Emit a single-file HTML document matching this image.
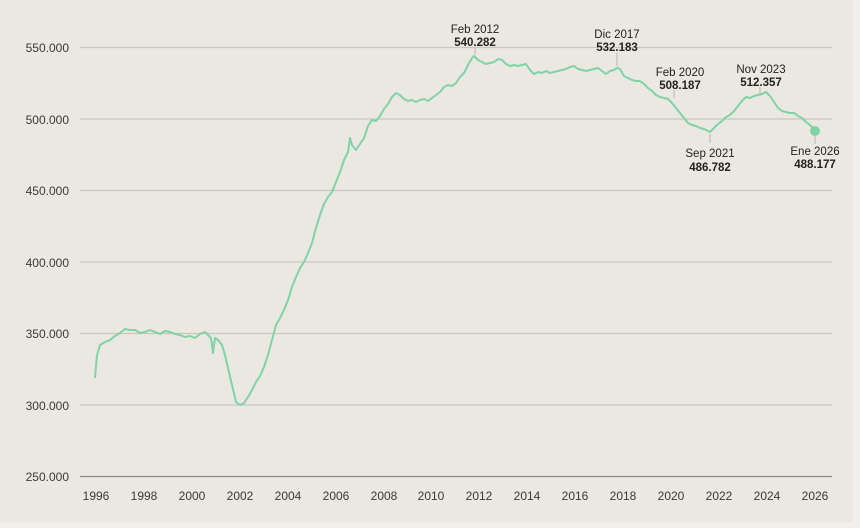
<!DOCTYPE html>
<html><head><meta charset="utf-8"><style>
html,body{margin:0;padding:0;background:#f1efeb}
svg{display:block}
text{font-family:"Liberation Sans",sans-serif}
</style></head><body>
<svg width="860" height="528" viewBox="0 0 860 528">
<rect x="0" y="0" width="853" height="522" fill="#ebe8e1"/>
<g stroke="#c9c6c0" stroke-width="1.3">
<line x1="80" y1="47.5" x2="832" y2="47.5"/>
<line x1="80" y1="119" x2="832" y2="119"/>
<line x1="80" y1="190.5" x2="832" y2="190.5"/>
<line x1="80" y1="262" x2="832" y2="262"/>
<line x1="80" y1="333.5" x2="832" y2="333.5"/>
<line x1="80" y1="405" x2="832" y2="405"/>
</g>
<line x1="80" y1="476.5" x2="832" y2="476.5" stroke="#8a8884" stroke-width="1.3"/>
<g font-size="12" fill="#3a3a3a" text-anchor="end">
<text x="69" y="52">550.000</text>
<text x="69" y="124">500.000</text>
<text x="69" y="195">450.000</text>
<text x="69" y="267">400.000</text>
<text x="69" y="338">350.000</text>
<text x="69" y="410">300.000</text>
<text x="69" y="481">250.000</text>
</g>
<g font-size="12" fill="#3a3a3a" text-anchor="middle">
<text x="96" y="500">1996</text><text x="144" y="500">1998</text><text x="192" y="500">2000</text>
<text x="240" y="500">2002</text><text x="288" y="500">2004</text><text x="336" y="500">2006</text>
<text x="384" y="500">2008</text><text x="431" y="500">2010</text><text x="479" y="500">2012</text>
<text x="527" y="500">2014</text><text x="575" y="500">2016</text><text x="623" y="500">2018</text>
<text x="671" y="500">2020</text><text x="719" y="500">2022</text><text x="767" y="500">2024</text>
<text x="815" y="500">2026</text>
</g>
<polyline fill="none" stroke="#7fd3a6" stroke-width="2" stroke-linejoin="round" points="95,378 97,355 100,345 105,342 110,340 115,336 120,333 125,329 130,330 135,330 140,333 145,332 150,330 155,332 160,334 165,331 170,332 175,334 180,335 185,337 190,336 195,338 200,334 205,332 208,335 211,338 213,353 215,338 218,340 222,345 225,355 228,368 232,385 236,402 240,405 244,403 248,397 252,390 256,382 260,376 264,367 268,355 272,340 276,325 280,318 284,310 288,300 292,287 296,277 300,268 304,262 308,253 312,243 316,228 320,215 324,204 328,197 332,192 336,182 340,172 344,160 348,152 350,138 352,145 356,150 360,144 364,138 368,126 372,120 376,121 380,116 384,109 388,104 392,97 396,93 400,95 404,99 408,101 412,100 416,102 420,100 424,99 428,101 432,98 436,95 440,92 444,87 448,85 452,86 456,83 460,77 464,73 468,65 472,58 474,56 478,60 482,62 486,64 490,63 494,62 498,59 502,60 506,64 510,66 514,65 518,66 522,65 526,64 530,70 534,74 538,72 542,73 546,71 550,73 554,72 558,71 562,70 566,69 570,67 574,66 578,69 582,70 586,71 590,70 594,69 598,68 602,71 606,74 610,71 614,70 617,68 620,69 624,76 628,78 632,80 636,81 640,81 644,84 648,88 652,91 656,95 660,97 664,98 668,99 672,103 676,108 680,113 684,118 688,123 692,125 696,126 700,128 704,129 708,131 710,132 714,128 718,124 722,121 726,117 730,115 734,111 738,106 742,101 746,97 750,98 754,96 758,95 762,94 766,92 770,96 774,102 778,108 782,111 786,112 790,113 794,113 798,116 802,118 806,122 810,125 815,130"/>
<circle cx="815" cy="131" r="5" fill="#7fd3a6"/>
<g stroke="#b9b6b0" stroke-width="1">
<line x1="475" y1="47" x2="475" y2="55"/>
<line x1="617" y1="53" x2="617" y2="66"/>
<line x1="674" y1="90" x2="674" y2="98"/>
<line x1="710" y1="134" x2="710" y2="143"/>
<line x1="760" y1="87" x2="760" y2="94"/>
<line x1="815" y1="136" x2="815" y2="144"/>
</g>
<g font-size="11.5" fill="#222" text-anchor="middle">
<text x="475" y="33">Feb 2012</text><text x="475" y="46" font-weight="bold">540.282</text>
<text x="617" y="38">Dic 2017</text><text x="617" y="51" font-weight="bold">532.183</text>
<text x="680" y="76">Feb 2020</text><text x="680" y="89" font-weight="bold">508.187</text>
<text x="710" y="157">Sep 2021</text><text x="710" y="171" font-weight="bold">486.782</text>
<text x="761" y="73">Nov 2023</text><text x="761" y="86" font-weight="bold">512.357</text>
<text x="815" y="155">Ene 2026</text><text x="815" y="168" font-weight="bold">488.177</text>
</g>
</svg>
</body></html>
